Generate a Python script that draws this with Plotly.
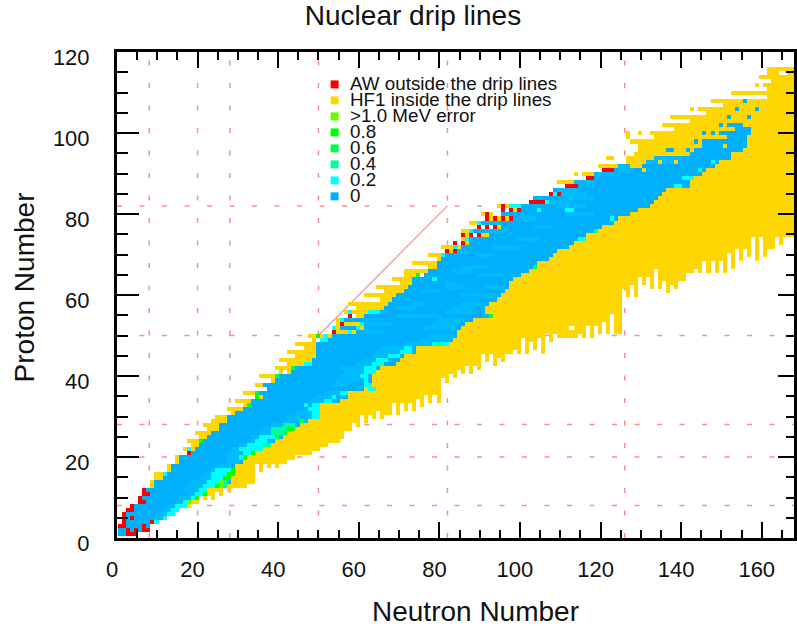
import numpy as np
import plotly.graph_objects as go

# ---------- data (Z = proton number, N = neutron number) ----------
title_text = "Nuclear drip lines"
x_title = "Neutron Number"
y_title = "Proton Number"
magic_numbers_N = [8, 20, 28, 50, 82, 126]
magic_numbers_Z = [8, 20, 28, 50, 82]
diagonal_ends = [50, 82]

legend_labels = ["AW outside the drip lines", "HF1 inside the drip lines", ">1.0 MeV error",
                 "0.8", "0.6", "0.4", "0.2", "0"]
level_colors = ["#00b0ff", "#00bcff", "#00ffff", "#00ff99", "#00ff44", "#00ff00", "#66ff00", "#ffd700", "#ff0000"]

# first and last calculated blue cell per proton number, Z = 1 .. 95
blue_start = [1, 1, 3, 3, 3, 3, 5, 5, 8, 7, 9, 8, 10, 10, 12, 13, 14, 14, 16, 16,
              19, 20, 21, 22, 23, 24, 26, 26, 28, 28, 30, 32, 34, 34, 37, 36, 38, 37, 40, 41,
              44, 45, 49, 49, 50, 50, 50, 50, 51, 54, 60, 56, 62, 57, 62, 66, 67, 68, 69, 70,
              72, 73, 74, 74, 77, 78, 80, 80, 81, 82, 85, 86, 88, 88, 93, 89, 96, 91, 99, 96,
              101, 101, 107, 104, 111, 109, 115, 114, 119, 119, 124, 125, 132, 134, 143]
blue_end = [2, 8, 8, 10, 12, 14, 15, 17, 18, 20, 22, 22, 27, 28, 28, 29, 29, 29, 31, 32,
            34, 36, 38, 39, 41, 42, 44, 45, 47, 50, 50, 50, 50, 55, 57, 57, 64, 63, 63, 63,
            64, 65, 69, 70, 71, 74, 74, 82, 83, 84, 84, 85, 86, 88, 93, 91, 91, 92, 94, 95,
            96, 97, 97, 98, 100, 102, 104, 104, 107, 108, 109, 112, 113, 116, 116, 119, 120, 123, 124, 127,
            129, 132, 133, 134, 135, 136, 142, 142, 143, 145, 146, 148, 149, 152, 152]

# lowest Z that is still inside the HF1 drip line, for N = 18 .. 168
edge_N0 = 18
edge_zmin = [8, 9, 9, 12, 10, 11, 10, 12, 11, 13, 12, 13, 13, 13, 13, 14, 14, 19, 17, 19,
             18, 19, 18, 19, 19, 20, 20, 21, 21, 21, 21, 22, 22, 23, 23, 24, 24, 24, 25, 27,
             27, 29, 28, 31, 29, 31, 30, 32, 30, 31, 31, 33, 31, 34, 32, 34, 32, 35, 33, 36,
             34, 36, 34, 40, 39, 41, 40, 42, 41, 43, 41, 43, 42, 46, 44, 46, 43, 45, 44, 46,
             46, 47, 46, 50, 46, 49, 47, 50, 46, 51, 48, 51, 50, 50, 50, 50, 50, 51, 50, 53,
             50, 53, 51, 54, 51, 56, 51, 51, 62, 60, 63, 60, 65, 63, 65, 62, 67, 62, 64, 61,
             63, 62, 64, 64, 66, 66, 67, 66, 69, 66, 69, 66, 69, 66, 71, 67, 72, 69, 72, 70,
             75, 69, 75, 70, 72, 72, 75, 73, 75, 75, 75]

# neutron-rich holes in the gold region
hole_N = [69, 101, 108, 113, 165, 166]
hole_Z = [33, 48, 48, 52, 115, 115]

# gold runs on the proton-rich side: Z, first N, last N
gold_runs = [
    (13, 9, 9), (14, 9, 9), (15, 10, 11), (16, 10, 11), (17, 13, 13), (18, 13, 13), (19, 15, 15), (20, 15, 15),
    (22, 17, 17), (22, 19, 19), (23, 19, 20), (24, 18, 20), (25, 21, 22), (26, 20, 23), (27, 23, 25), (28, 22, 25),
    (29, 24, 27), (30, 25, 27), (31, 29, 29), (32, 28, 31), (33, 32, 32), (34, 30, 33), (36, 32, 34), (35, 36, 36),
    (38, 35, 36), (39, 39, 39), (40, 36, 39), (41, 41, 41), (41, 43, 43), (42, 40, 43), (43, 43, 46), (44, 41, 48),
    (45, 45, 49), (46, 43, 49), (47, 47, 49), (48, 45, 49), (49, 49, 49), (50, 48, 49), (50, 51, 51), (50, 53, 53),
    (51, 55, 57), (51, 59, 59), (52, 55, 55), (52, 61, 61), (53, 55, 55), (53, 57, 60), (54, 55, 55), (55, 60, 61),
    (56, 57, 57), (56, 59, 62), (57, 60, 66), (58, 58, 67), (59, 66, 68), (60, 62, 69), (61, 67, 71), (62, 65, 72),
    (63, 71, 73), (64, 69, 73), (65, 72, 74), (66, 72, 77), (67, 78, 79), (68, 74, 79), (69, 80, 80), (70, 78, 80),
    (71, 83, 83), (72, 81, 83), (72, 85, 85), (73, 87, 87), (74, 86, 86), (75, 87, 87), (75, 91, 92), (76, 86, 87),
    (77, 95, 95), (78, 88, 89), (79, 93, 93), (79, 95, 95), (79, 97, 97), (80, 91, 91), (80, 93, 93), (81, 99, 99),
    (82, 95, 95), (82, 97, 97), (88, 110, 113), (90, 114, 114), (90, 116, 118), (92, 120, 124), (92, 128, 130),
    (93, 127, 131), (94, 123, 123), (94, 127, 133), (95, 129, 142), (93, 135, 135), (93, 139, 139), (91, 131, 131),
    (56, 92, 93), (37, 62, 62),
    (99, 127, 127), (100, 127, 127), (100, 130, 130), (106, 143, 143), (112, 159, 159), (115, 162, 163), (94, 122, 122),
]
# top of the chart: first gold N for Z = 96 .. 116
top_first_N = [130, 130, 128, 134, 133, 139, 136, 143, 138, 147, 145, 151, 148, 162, 153, 162, 161, 163, 160, 162, 162]

# blue runs inside the gold region near the top
upper_blue_runs = [
    (96, 137, 138), (96, 142, 142), (96, 144, 155), (97, 146, 150), (97, 152, 156), (98, 144, 144), (98, 146, 156),
    (99, 152, 156), (100, 146, 146), (100, 148, 148), (100, 150, 157), (101, 154, 157), (102, 150, 150), (102, 152, 155),
    (104, 152, 152), (104, 157, 157), (106, 154, 154), (106, 159, 159), (108, 156, 156),
]
light_runs = [
    (5, 10, 11), (6, 11, 12), (7, 12, 13), (8, 13, 14), (9, 15, 16), (10, 16, 18), (11, 18, 19), (12, 17, 20), (13, 18, 21),
    (14, 19, 22), (15, 21, 23), (16, 22, 23), (17, 24, 24), (18, 25, 28), (19, 28, 30), (20, 28, 30), (21, 28, 31), (22, 29, 30),
    (23, 31, 32), (24, 33, 34), (25, 34, 35), (26, 36, 38), (27, 37, 38), (28, 39, 41), (29, 42, 45), (29, 47, 47), (30, 43, 48),
    (31, 45, 48), (34, 48, 54), (35, 50, 56), (36, 52, 55), (38, 54, 57), (39, 55, 60), (40, 56, 60), (41, 57, 62), (42, 56, 61),
    (43, 60, 66), (44, 62, 68), (45, 64, 70), (46, 65, 70), (47, 66, 71), (48, 72, 78), (49, 76, 82), (50, 78, 83), (51, 62, 66),
    (52, 77, 84), (53, 62, 68), (53, 79, 85), (54, 80, 86), (55, 70, 80), (56, 82, 88), (57, 70, 74), (57, 84, 89), (58, 74, 76),
    (58, 86, 90), (60, 86, 94), (61, 76, 80), (62, 82, 86), (62, 92, 96), (63, 82, 84), (65, 90, 96), (66, 84, 88), (67, 86, 92),
    (70, 90, 93), (71, 84, 87), (72, 94, 100), (74, 100, 105), (76, 92, 97), (77, 104, 108), (78, 90, 95), (79, 100, 104),
    (80, 112, 118), (82, 110, 116), (83, 107, 112), (84, 112, 118), (85, 111, 116), (86, 110, 114), (88, 114, 118), (90, 119, 123),
    (91, 125, 128), (92, 125, 127), (93, 132, 138), (94, 134, 140),
]
cyan_runs = [
    (4, 10, 10), (5, 12, 12), (6, 13, 14), (7, 14, 15), (8, 15, 17), (9, 17, 17), (10, 19, 19), (11, 20, 21), (12, 21, 22), (13, 22, 24),
    (14, 23, 25), (15, 24, 26), (16, 12, 12), (16, 24, 27), (17, 25, 28), (20, 31, 31), (21, 32, 33), (22, 18, 18), (22, 31, 36),
    (23, 33, 36), (24, 35, 37), (25, 36, 39), (30, 49, 50), (31, 49, 50), (32, 48, 50), (33, 47, 47), (33, 49, 50), (34, 52, 53),
    (35, 54, 54), (36, 56, 57), (37, 63, 64), (38, 62, 63), (39, 62, 62), (40, 61, 62), (41, 62, 64), (42, 62, 64), (43, 47, 48),
    (43, 64, 66), (44, 65, 67), (45, 68, 70), (46, 71, 73), (47, 72, 73), (48, 79, 79), (48, 81, 82), (49, 51, 52), (50, 52, 52),
    (51, 58, 58), (52, 54, 54), (52, 60, 60), (53, 61, 61), (54, 56, 56), (56, 58, 58), (56, 63, 65), (64, 79, 79), (70, 81, 81),
    (72, 84, 84), (74, 87, 87), (74, 115, 116), (76, 88, 88), (78, 90, 90), (79, 123, 123), (81, 105, 105), (81, 112, 113), (82, 98, 100),
    (83, 107, 107), (85, 109, 109), (87, 139, 140), (89, 141, 143), (91, 145, 145), (93, 148, 148),
]
spring_runs = [(13, 27, 27), (14, 27, 27), (23, 37, 38), (26, 39, 41), (27, 39, 42), (28, 42, 44), (76, 119, 119), (48, 80, 80)]
mid_green_runs = [(25, 40, 40), (26, 42, 42), (29, 46, 46), (33, 33, 33), (36, 35, 35), (40, 40, 40), (42, 44, 44), (55, 93, 93), (65, 75, 75), (67, 104, 104)]
green_runs = [(10, 20, 20), (11, 22, 22), (13, 25, 25), (15, 27, 28), (16, 28, 29), (17, 29, 29), (20, 32, 32), (21, 34, 34), (24, 21, 21), (27, 43, 44), (35, 35, 35), (50, 50, 50)]
lime_runs = [(13, 26, 26), (14, 26, 26), (9, 18, 18)]
red_runs = [
    (1, 3, 5), (2, 3, 3), (2, 5, 5), (2, 7, 8), (3, 1, 2), (3, 7, 7), (4, 2, 2), (4, 9, 9), (5, 2, 2), (5, 4, 4), (6, 2, 2), (7, 3, 4), (8, 4, 4),
    (9, 6, 7), (10, 6, 6), (11, 7, 8), (12, 7, 7), (21, 18, 18), (51, 54, 54), (53, 56, 56), (55, 58, 58), (71, 82, 82), (71, 84, 84),
    (73, 84, 84), (73, 86, 86), (75, 86, 86), (75, 88, 88), (75, 90, 90), (77, 90, 90), (77, 92, 92), (77, 94, 94), (79, 92, 92), (79, 94, 94),
    (79, 96, 96), (79, 98, 98), (80, 92, 92), (81, 96, 96), (81, 98, 98), (81, 100, 100), (82, 96, 96), (83, 103, 106), (85, 108, 108), (85, 110, 110),
    (87, 112, 114), (89, 117, 118), (91, 121, 123),
]

# ---------- build the table of cells ----------
N_MAX = 170
Z_MAX = 117
grid = np.full((Z_MAX + 1, N_MAX + 1), np.nan)


def paint(runs, code):
    for z_val, n0, n1 in runs:
        grid[z_val, n0:n1 + 1] = code


# gold neutron-rich bulk, bounded by the column edge
for n_i, zmin in enumerate(edge_zmin):
    n_val = edge_N0 + n_i
    for z_val in range(zmin, Z_MAX):
        if z_val <= len(blue_end):
            if n_val > blue_end[z_val - 1]:
                grid[z_val, n_val] = 8
        else:
            first = top_first_N[z_val - 96]
            if n_val >= first:
                grid[z_val, n_val] = 8
for n_val, z_val in zip(hole_N, hole_Z):
    grid[z_val, n_val] = np.nan
for z_i, (a, b) in enumerate(zip(blue_start, blue_end)):
    grid[z_i + 1, a:b + 1] = 1
paint(upper_blue_runs, 1)
paint(light_runs, 2)
paint(cyan_runs, 3)
paint(spring_runs, 4)
paint(mid_green_runs, 5)
paint(green_runs, 6)
paint(lime_runs, 7)
paint(gold_runs, 8)
paint(red_runs, 9)

n_cells = len(level_colors)
scale = []
for i, c in enumerate(level_colors):
    scale += [[i / n_cells, c], [(i + 1) / n_cells, c]]

CELL_SHIFT_N = -0.2
CELL_SHIFT_Z = -0.1

fig = go.Figure()
fig.add_trace(go.Heatmap(
    x=np.arange(N_MAX + 1) + CELL_SHIFT_N,
    y=np.arange(Z_MAX + 1) + CELL_SHIFT_Z,
    z=grid, zmin=0.5, zmax=n_cells + 0.5,
    colorscale=scale, showscale=False, hoverongaps=False,
))

# legend as square markers and labels inside the plot
leg_x = 54
leg_top = 112.0
leg_step = 3.95
leg_colors = ["#ff0000", "#ffd700", "#66ff00", "#00ff00", "#00ff44", "#00ff99", "#00ffff", "#00b0ff"]
leg_y = [leg_top - i * leg_step for i in range(len(legend_labels))]
fig.add_trace(go.Scatter(
    x=[leg_x] * len(legend_labels), y=leg_y, mode="markers",
    marker=dict(symbol="square", size=8, color=leg_colors, line=dict(width=0)),
    showlegend=False, hoverinfo="skip",
))
# invisible helper for the separate right-hand tick axis
fig.add_trace(go.Scatter(x=[0], y=[0], yaxis="y2", mode="markers", marker=dict(opacity=0), showlegend=False, hoverinfo="skip"))

annotations = []
for lab, y_val in zip(legend_labels, leg_y):
    annotations.append(dict(x=leg_x, y=y_val, text=lab, showarrow=False, xanchor="left", yanchor="middle",
                            xshift=13, yshift=1, font=dict(size=18.8, color="#111111")))
W, H = 797, 626
L, T, PW, PH = 117, 52, 680, 486
annotations.append(dict(x=(477 - L) / PW, y=(T + PH - 611) / PH, xref="paper", yref="paper", text=x_title, showarrow=False,
                        font=dict(size=28, color="#111111"), xanchor="center", yanchor="middle"))
annotations.append(dict(x=(24 - L) / PW, y=(T + PH - 287) / PH, xref="paper", yref="paper", text=y_title, showarrow=False, textangle=-90,
                        font=dict(size=28, color="#111111"), xanchor="center", yanchor="middle"))

shapes = []
line_pink = dict(color="#ff8c8c", width=1.5, dash="5px,17.5px")
for m in magic_numbers_N:
    shapes.append(dict(type="line", layer="below", x0=m, x1=m, y0=0, y1=120, line=line_pink))
for m in magic_numbers_Z:
    shapes.append(dict(type="line", layer="below", x0=0, x1=168, y0=m, y1=m, line=line_pink))
shapes.append(dict(type="line", layer="below", x0=diagonal_ends[0], x1=diagonal_ends[1], y0=diagonal_ends[0], y1=diagonal_ends[1],
                   line=dict(color="#ff8c8c", width=1.2)))

fig.update_layout(
    width=W, height=H, autosize=False,
    margin=dict(l=L, r=W - L - PW, t=T, b=H - T - PH),
    paper_bgcolor="white", plot_bgcolor="white",
    font=dict(family="Liberation Sans, Arial, sans-serif", color="#111111"),
    showlegend=False,
    title=dict(text=title_text, x=413 / W, xanchor="center", y=1 - 15 / H, yanchor="middle", font=dict(size=28, color="#111111")),
    annotations=annotations, shapes=shapes,
    xaxis=dict(range=[0, 168], tick0=0, dtick=20, ticks="inside", ticklen=16, tickwidth=2, tickcolor="black",
               showgrid=False, zeroline=False, showline=True, linewidth=3, linecolor="black", mirror="ticks",
               tickfont=dict(size=22, color="#111111"), ticklabelshift=-5, ticklabelstandoff=10,
               minor=dict(dtick=5, tick0=0, ticks="inside", ticklen=8, tickwidth=2, tickcolor="black", showgrid=False)),
    yaxis=dict(range=[0, 120], tick0=0, dtick=20, ticks="inside", ticklen=22, tickwidth=2, tickcolor="black",
               showgrid=False, zeroline=False, showline=True, linewidth=3, linecolor="black", mirror=True,
               tickfont=dict(size=22, color="#111111"), ticklabelshift=5, ticklabelstandoff=20,
               minor=dict(dtick=5, tick0=0, ticks="inside", ticklen=11, tickwidth=2, tickcolor="black", showgrid=False)),
    yaxis2=dict(range=[0, 120], overlaying="y", side="right", tick0=0, dtick=20, ticks="inside", ticklen=16, tickwidth=2,
                tickcolor="black", showgrid=False, zeroline=False, showticklabels=False,
                minor=dict(dtick=5, tick0=0, ticks="inside", ticklen=8, tickwidth=2, tickcolor="black", showgrid=False)),
)
fig.write_html("out.html", config={"displayModeBar": False},
               post_script="document.body.style.margin='0';document.documentElement.style.overflow='hidden';")
